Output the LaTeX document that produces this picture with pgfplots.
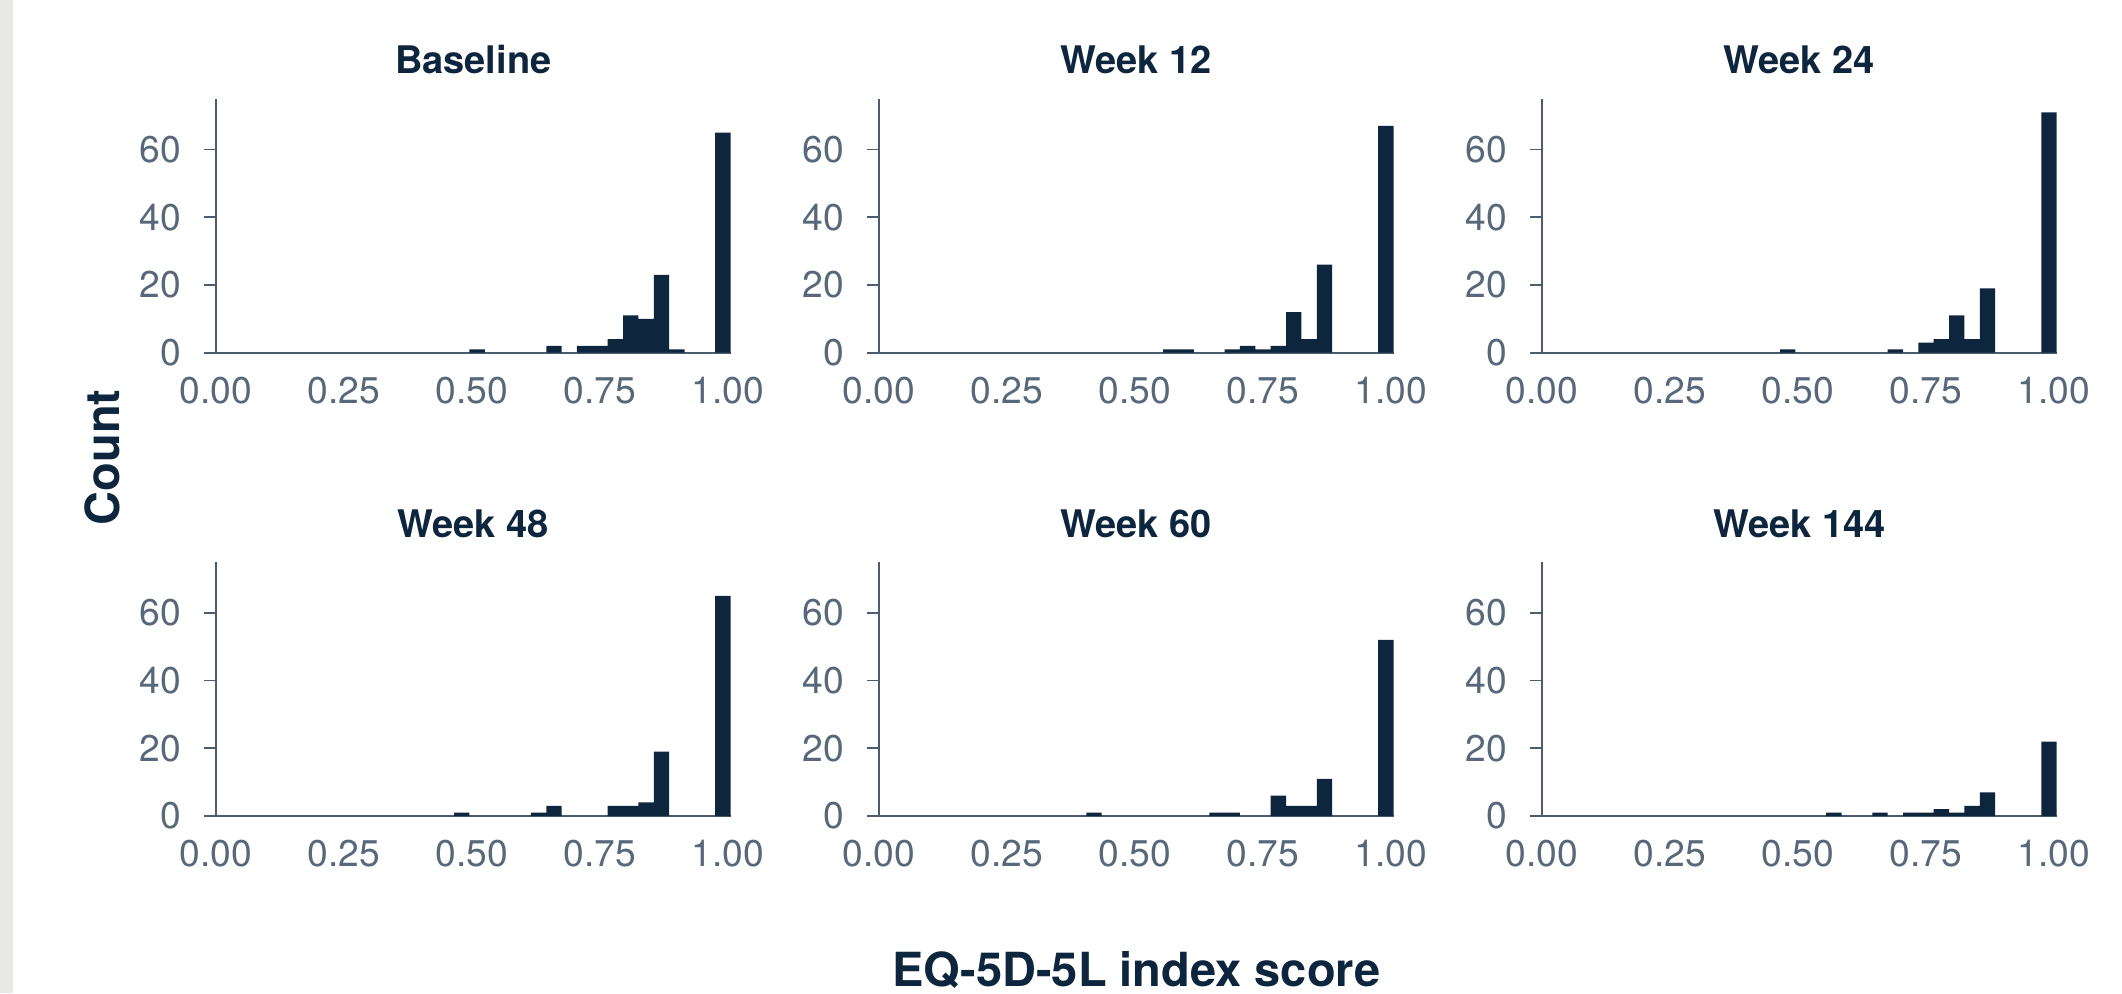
\documentclass[border=0pt]{standalone}
\usepackage{fontspec}
\setmainfont{TeX Gyre Heros}
\usepackage{pgfplots}
\pgfplotsset{compat=1.18}
\definecolor{navy}{RGB}{13,38,61}
\definecolor{tickgray}{RGB}{86,104,122}
\definecolor{axisgray}{RGB}{74,92,110}
\definecolor{stripgray}{RGB}{232,232,230}
\pgfplotsset{panel/.style={
  scale only axis, width=257.3pt, height=127pt,
  xmin=0, xmax=1.005, ymin=0, ymax=75,
  axis x line*=bottom, axis y line*=left,
  axis line style={axisgray, line width=0.9pt, -},
  xtick={0,0.25,0.5,0.75,1}, xticklabels={0.00,0.25,0.50,0.75,1.00},
  ytick={0,20,40,60},
  x tick style={draw=none},
  y tick style={axisgray, line width=0.9pt},
  major tick length=5.85pt, tick align=outside,
  tick label style={font=\fontsize{18.6}{20}\selectfont, text=tickgray},
  /pgf/number format/assume math mode=true,
  xticklabel style={anchor=north, inner sep=0pt, yshift=-6pt},
  yticklabel style={anchor=east, inner sep=0pt, xshift=-11.5pt},
  title style={font=\bfseries\fontsize{19}{21}\selectfont, text=navy, anchor=base, at={(0.5,1)}, yshift=6.5pt, inner sep=0pt},
  anchor=south west,
  ybar, bar width=0.03, bar shift=0pt,
}}
\begin{document}
\begin{tikzpicture}
\path[use as bounding box] (0,0) rectangle (1061pt,496.5pt);
\fill[stripgray] (0,0) rectangle (6.35pt,496.5pt);
% Row 1
\begin{axis}[panel, at={(108pt,320.15pt)}, title={Baseline}]
\addplot[fill=navy, draw=none] coordinates {(0.51,1) (0.66,2) (0.72,2) (0.75,2) (0.78,4) (0.81,11) (0.84,10) (0.87,23) (0.90,1) (0.99,65)};
\end{axis}
\begin{axis}[panel, at={(439.5pt,320.15pt)}, title={Week 12}]
\addplot[fill=navy, draw=none] coordinates {(0.57,1) (0.60,1) (0.69,1) (0.72,2) (0.75,1) (0.78,2) (0.81,12) (0.84,4) (0.87,26) (0.99,67)};
\end{axis}
\begin{axis}[panel, at={(771pt,320.15pt)}, title={Week 24}]
\addplot[fill=navy, draw=none] coordinates {(0.48,1) (0.69,1) (0.75,3) (0.78,4) (0.81,11) (0.84,4) (0.87,19) (0.99,71)};
\end{axis}
% Row 2
\begin{axis}[panel, at={(108pt,88.5pt)}, title={Week 48}]
\addplot[fill=navy, draw=none] coordinates {(0.48,1) (0.63,1) (0.66,3) (0.78,3) (0.81,3) (0.84,4) (0.87,19) (0.99,65)};
\end{axis}
\begin{axis}[panel, at={(439.5pt,88.5pt)}, title={Week 60}]
\addplot[fill=navy, draw=none] coordinates {(0.42,1) (0.66,1) (0.69,1) (0.78,6) (0.81,3) (0.84,3) (0.87,11) (0.99,52)};
\end{axis}
\begin{axis}[panel, at={(771pt,88.5pt)}, title={Week 144}]
\addplot[fill=navy, draw=none] coordinates {(0.57,1) (0.66,1) (0.72,1) (0.75,1) (0.78,2) (0.81,1) (0.84,3) (0.87,7) (0.99,22)};
\end{axis}
\node[rotate=90, font=\bfseries\fontsize{23.5}{26}\selectfont, text=navy, inner sep=0pt] at (51.25pt,267.8pt) {Count};
\node[anchor=base, font=\bfseries\fontsize{23.5}{26}\selectfont, text=navy, inner sep=0pt] at (568.25pt,3.5pt) {EQ-5D-5L index score};
\end{tikzpicture}
\end{document}
